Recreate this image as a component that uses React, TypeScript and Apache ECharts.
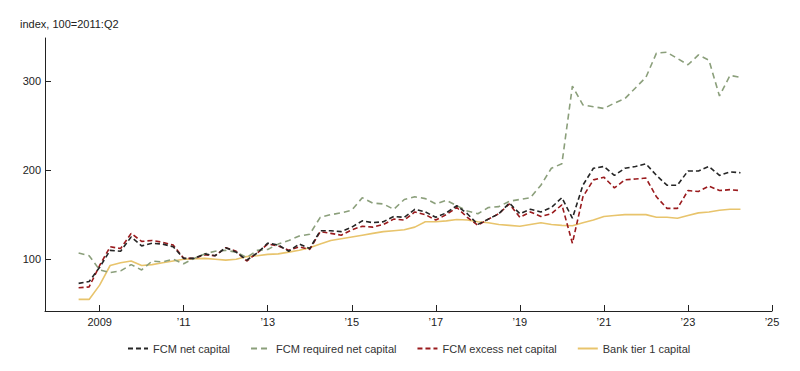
import React, { useEffect, useRef } from "react";
import * as echarts from "echarts";

// Quarters 2008:Q2 ... 2024:Q1 (plotted at quarter end)
const quarters: string[] = [];
for (let y = 2008; y <= 2024; y++) {
  for (let q = 1; q <= 4; q++) {
    if ((y === 2008 && q < 2) || (y === 2024 && q > 1)) continue;
    quarters.push(`${y}:Q${q}`);
  }
}

const fcmNetCapital = [73, 75, 91, 110, 109, 125, 115, 118, 117, 114, 101, 101, 106, 104, 113, 108, 99, 107, 118, 116, 109, 117, 112, 132, 132, 131, 136, 143, 141, 142, 148, 147, 156, 153, 147, 152, 160, 151, 139, 145, 151, 163, 151, 156, 153, 158, 169, 146, 183, 202, 204, 194, 202, 204, 207, 194, 183, 183, 199, 199, 204, 194, 198, 197];
const fcmRequired = [107, 104, 88, 85, 87, 94, 88, 98, 97, 100, 95, 101, 106, 109, 110, 108, 102, 110, 111, 117, 121, 126, 128, 147, 150, 152, 155, 169, 163, 162, 156, 167, 170, 168, 162, 166, 160, 154, 151, 158, 159, 165, 167, 169, 183, 202, 207, 294, 273, 271, 269, 275, 280, 292, 304, 331, 332, 325, 318, 329, 323, 283, 306, 304];
const fcmExcess = [68, 69, 93, 114, 112, 129, 120, 121, 119, 116, 101, 101, 105, 104, 113, 109, 98, 107, 117, 115, 110, 114, 111, 131, 129, 127, 133, 137, 136, 139, 145, 144, 153, 150, 144, 150, 158, 147, 138, 145, 151, 162, 147, 153, 148, 151, 161, 118, 170, 189, 192, 180, 189, 190, 191, 170, 157, 157, 177, 176, 182, 177, 178, 177];
const bankTier1 = [55, 55, 71, 93, 96, 98, 93, 94, 96, 98, 100, 100.5, 101, 100, 99, 100, 103, 104, 105.5, 106, 108, 110, 113, 117, 121, 123, 125, 127, 129, 131, 132, 133, 136, 142, 142, 143, 144.5, 144, 142, 141, 139, 138, 137, 139, 141, 139, 138, 137.5, 141, 144, 148, 149, 150, 150, 150, 147, 147, 146, 149, 152, 153, 155, 156, 156];

const xTicks = [2009, 2011, 2013, 2015, 2017, 2019, 2021, 2023, 2025];
const xTickLabels = ["2009", "\u201911", "\u201913", "\u201915", "\u201917", "\u201919", "\u201921", "\u201923", "\u201925"];
const yTicks = [100, 200, 300];

const seriesNames = ["FCM net capital", "FCM required net capital", "FCM excess net capital", "Bank tier 1 capital"];

const toX = (q: string) => {
  const [y, qq] = q.split(":Q");
  return Number(y) + Number(qq) / 4;
};

const FONT = "'Liberation Sans', Arial, sans-serif";

export default function App() {
  const ref = useRef<HTMLDivElement>(null);
  useEffect(() => {
    if (!ref.current) return;
    const chart = echarts.init(ref.current, undefined, { renderer: "svg" });
    const mk = (vals: number[]) => quarters.map((q, i) => [toX(q), vals[i]]);
    const colors = ["#262626", "#8b9f7b", "#9a1a1d", "#e8c46c"];
    const dashes: any[] = [[5, 3], [6, 4], [5, 3], "solid"];
    const datasets = [fcmNetCapital, fcmRequired, fcmExcess, bankTier1];
    chart.setOption({
      animation: false,
      textStyle: { fontFamily: FONT },
      grid: { left: 45, right: 28, top: 38, bottom: 60, containLabel: false },
      graphic: [
        {
          type: "text",
          left: 20,
          top: 18,
          style: { text: "index, 100=2011:Q2", fontSize: 11, fontFamily: FONT, fill: "#222" },
        },
      ],
      legend: {
        left: 122,
        top: 338,
        itemWidth: 20,
        itemHeight: 12,
        itemGap: 20,
        itemStyle: { opacity: 0, borderWidth: 0 },
        textStyle: { fontSize: 11, color: "#333", fontFamily: FONT },
        data: seriesNames,
      },
      xAxis: {
        type: "value",
        min: 2007.7,
        max: 2025,
        axisLine: { lineStyle: { color: "#222", width: 1 } },
        axisTick: { inside: true, length: 6, customValues: xTicks, lineStyle: { color: "#222" } },
        axisLabel: {
          customValues: xTicks,
          margin: 5,
          fontSize: 11,
          color: "#222",
          fontFamily: FONT,
          formatter: (v: number) => xTickLabels[xTicks.indexOf(Math.round(v))] ?? "",
        },
        splitLine: { show: false },
      },
      yAxis: {
        type: "value",
        min: 42,
        max: 348,
        axisLine: { show: true, lineStyle: { color: "#222", width: 1 } },
        axisTick: { show: true, inside: true, length: 6, customValues: yTicks, lineStyle: { color: "#222" } },
        axisLabel: { customValues: yTicks, margin: 4, fontSize: 11, color: "#222", fontFamily: FONT },
        splitLine: { show: false },
      },
      series: datasets.map((d, k) => ({
        name: seriesNames[k],
        type: "line",
        data: mk(d),
        symbol: "none",
        color: colors[k],
        lineStyle: { color: colors[k], width: 1.6, type: dashes[k] },
        z: k === 3 ? 1 : 5 - k,
      })),
    });
    return () => chart.dispose();
  }, []);
  return <div ref={ref} style={{ position: "absolute", left: 0, top: 0, width: 800, height: 371 }} />;
}
